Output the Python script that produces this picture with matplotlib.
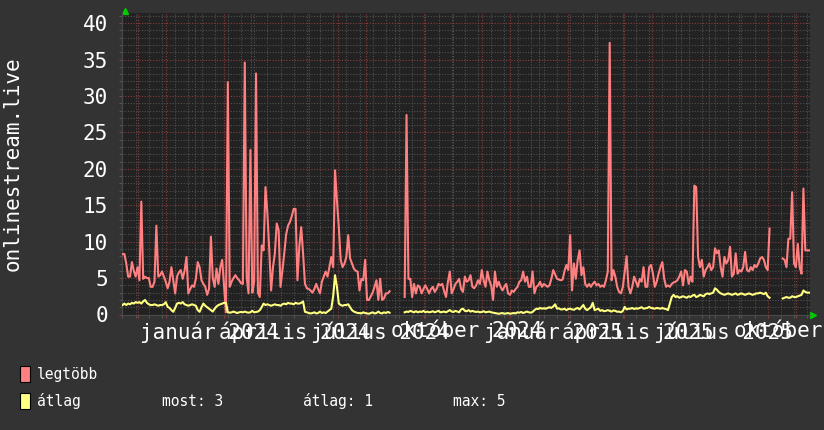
import numpy as np
import matplotlib.pyplot as plt
from matplotlib.patches import Rectangle

nan = np.nan

# one sample every 2 days, first sample on 2023-10-16
start = np.datetime64('2023-10-16')
step_days = 2

legtobb = [
    8.3, 8.3, 7.0, 5.2, 5.2, 7.2, 6.0, 5.2, 6.5, 4.7,
    15.5, 4.9, 5.2, 5.0, 5.0, 3.8, 3.8, 4.5, 12.2, 5.2,
    5.4, 5.9, 5.2, 4.5, 3.6, 4.5, 6.5, 4.7, 2.9, 5.2,
    5.8, 6.1, 4.9, 6.0, 7.9, 2.9, 3.5, 4.0, 3.8, 4.9,
    7.2, 6.5, 4.7, 4.2, 3.8, 2.7, 3.5, 10.7, 5.0, 3.8,
    6.3, 4.2, 6.5, 7.5, 3.8, 0.3, 31.9, 3.8, 4.5, 5.0,
    5.4, 5.0, 4.7, 4.3, 4.2, 34.6, 5.2, 2.9, 22.6, 3.0,
    4.5, 33.1, 3.0, 2.4, 9.5, 8.8, 17.5, 14.0, 9.0, 3.3,
    6.5, 8.4, 12.5, 11.6, 3.8, 6.0, 8.4, 11.0, 12.2, 12.7,
    13.5, 14.5, 14.5, 4.7, 9.3, 12.0, 8.4, 4.2, 3.6, 3.5,
    3.3, 3.0, 3.5, 4.2, 3.5, 2.9, 4.5, 5.2, 5.9, 5.2,
    6.5, 7.9, 6.5, 19.8, 15.7, 12.0, 7.5, 6.5, 7.0, 7.9,
    10.9, 7.7, 7.0, 6.3, 6.0, 5.9, 3.3, 4.9, 4.7, 7.5,
    2.0, 2.0, 2.5, 3.0, 3.8, 4.7, 2.0, 4.9, 2.0, 2.2,
    2.9, 2.9, 3.2, nan, nan, nan, nan, nan, nan, nan,
    2.4, 27.4, 4.9, 4.9, 2.4, 4.2, 2.9, 4.0, 3.8, 2.9,
    3.5, 4.0, 3.5, 2.9, 3.5, 3.8, 3.1, 3.5, 4.2, 4.0,
    4.2, 3.2, 2.4, 4.5, 5.9, 2.9, 3.5, 4.2, 4.5, 4.9,
    3.5, 3.1, 5.2, 4.5, 4.7, 5.4, 3.8, 3.6, 4.0, 4.7,
    4.2, 6.1, 4.7, 3.8, 5.9, 4.7, 4.0, 2.0, 5.9, 3.8,
    4.5, 3.8, 3.3, 3.8, 4.2, 2.9, 2.7, 3.3, 3.1, 3.5,
    3.8, 4.5, 4.7, 5.9, 4.5, 5.2, 3.8, 3.8, 5.9, 2.9,
    3.8, 4.0, 4.5, 3.8, 4.2, 4.0, 3.8, 4.0, 4.9, 6.1,
    5.5, 4.9, 4.8, 4.7, 4.8, 6.0, 6.8, 6.1, 10.9, 3.3,
    7.0, 4.9, 7.5, 8.8, 5.4, 6.5, 4.2, 3.8, 4.2, 3.8,
    4.2, 4.5, 4.0, 4.2, 3.8, 4.0, 3.8, 4.7, 5.9, 37.3,
    4.7, 6.1, 5.2, 3.8, 3.1, 2.9, 3.8, 5.9, 8.0, 3.8,
    2.9, 3.8, 5.2, 4.5, 3.8, 4.9, 4.5, 6.5, 3.8, 3.8,
    6.5, 6.8, 5.6, 3.8, 4.5, 5.6, 6.5, 7.2, 4.9, 3.8,
    4.0, 3.8, 4.2, 4.4, 4.5, 4.7, 5.2, 5.9, 4.0, 6.1,
    5.9, 4.2, 5.2, 4.5, 17.7, 17.5, 7.9, 6.5, 7.5, 5.2,
    6.1, 6.5, 7.0, 6.1, 6.5, 9.1, 8.4, 8.8, 6.5, 5.2,
    7.9, 7.0, 7.5, 9.3, 5.2, 5.6, 8.4, 5.6, 6.1, 5.9,
    6.5, 8.6, 6.1, 5.9, 6.5, 6.1, 6.8, 6.5, 7.0, 7.7,
    7.9, 7.5, 6.5, 6.1, 11.8, nan, nan, nan, nan, nan,
    nan, 7.7, 7.5, 6.5, 10.4, 10.4, 16.8, 7.0, 6.5, 9.7,
    6.5, 5.6, 17.3, 8.8, 8.8, 8.8,
]

atlag = [
    1.3, 1.5, 1.3, 1.5, 1.4, 1.6, 1.5, 1.7, 1.6, 1.7,
    1.5, 1.8, 2.0, 1.6, 1.4, 1.3, 1.3, 1.4, 1.3, 1.2,
    1.3, 1.3, 1.4, 1.7, 1.05, 0.9, 0.6, 0.37, 0.9, 1.5,
    1.6, 1.5, 1.7, 1.4, 1.3, 1.2, 1.3, 1.4, 1.3, 1.2,
    0.6, 0.37, 1.0, 1.5, 1.2, 1.0, 0.8, 0.6, 0.4, 0.8,
    1.1, 1.3, 1.4, 1.5, 1.6, 1.6, 0.3, 0.25, 0.3, 0.4,
    0.3, 0.2, 0.3, 0.35, 0.3, 0.4, 0.3, 0.25, 0.3, 0.5,
    0.3, 0.35, 0.4, 0.6, 1.0, 1.5, 1.3, 1.4, 1.3, 1.2,
    1.3, 1.4, 1.3, 1.3, 1.2, 1.4, 1.5, 1.4, 1.6, 1.5,
    1.5, 1.4, 1.6, 1.5, 1.5, 1.6, 1.8, 0.37, 0.3, 0.2,
    0.15, 0.2, 0.3, 0.15, 0.2, 0.4, 0.2, 0.3, 0.2, 0.4,
    0.6, 0.8, 2.5, 5.4, 3.8, 1.5, 1.3, 1.2, 1.3, 1.3,
    1.4, 1.0, 0.6, 0.4, 0.3, 0.2, 0.2, 0.15, 0.3, 0.2,
    0.15, 0.1, 0.2, 0.3, 0.15, 0.2, 0.4, 0.2, 0.15, 0.3,
    0.2, 0.35, 0.25, nan, nan, nan, nan, nan, nan, nan,
    0.3, 0.4, 0.35, 0.5, 0.4, 0.3, 0.45, 0.3, 0.4, 0.35,
    0.5, 0.3, 0.4, 0.3, 0.35, 0.45, 0.3, 0.4, 0.5, 0.3,
    0.35, 0.4, 0.3, 0.45, 0.6, 0.4, 0.35, 0.5, 0.4, 0.3,
    0.7, 0.8, 0.5, 0.45, 0.6, 0.4, 0.5, 0.4, 0.35, 0.4,
    0.3, 0.35, 0.45, 0.3, 0.35, 0.4, 0.3, 0.25, 0.2, 0.15,
    0.1, 0.15, 0.2, 0.1, 0.15, 0.2, 0.1, 0.15, 0.2, 0.15,
    0.3, 0.25, 0.35, 0.2, 0.3, 0.4, 0.3, 0.25, 0.35, 0.6,
    0.8, 0.75, 0.9, 0.8, 0.85, 0.8, 0.9, 1.0, 0.9, 1.1,
    1.4, 0.8, 0.85, 0.7, 0.7, 0.8, 0.6, 0.75, 0.8, 0.7,
    0.65, 0.8, 0.9, 0.7, 1.0, 1.3, 0.8, 0.6, 0.8, 1.0,
    1.6, 0.6, 0.7, 0.8, 0.5, 0.6, 0.45, 0.5, 0.6, 0.5,
    0.4, 0.55, 0.5, 0.37, 0.4, 0.3, 0.5, 1.05, 0.7, 0.8,
    0.8, 0.9, 0.75, 0.85, 0.8, 0.9, 1.0, 0.8, 0.85, 0.9,
    1.05, 0.9, 0.85, 0.8, 0.9, 0.85, 0.8, 0.9, 0.8, 0.75,
    0.6, 1.5, 2.4, 2.7, 2.4, 2.5, 2.3, 2.4, 2.5, 2.4,
    2.3, 2.5, 2.4, 2.6, 2.7, 2.4, 2.5, 2.7, 2.6, 2.5,
    2.8, 2.9, 2.8, 2.9, 3.0, 3.6, 3.4, 3.1, 2.9, 2.8,
    2.7, 2.8, 2.9, 2.8, 2.7, 2.8, 2.9, 2.7, 2.8, 2.9,
    2.8, 2.7, 2.8, 2.9, 2.8, 2.7, 2.8, 2.9, 2.9, 3.0,
    2.9, 2.8, 3.0, 2.5, 2.3, nan, nan, nan, nan, nan,
    nan, 2.2, 2.3, 2.4, 2.3, 2.3, 2.5, 2.4, 2.4, 2.5,
    2.6, 2.7, 3.3, 3.1, 3.0, 3.0,
]

x_labels = ['január 2024', 'április 2024', 'július 2024', 'október 2024',
            'január 2025', 'április 2025', 'július 2025', 'október 2025']
label_dates = ['2024-01-16', '2024-04-16', '2024-07-16', '2024-10-16',
               '2025-01-16', '2025-04-16', '2025-07-16', '2025-10-16']
y_ticks = [0, 5, 10, 15, 20, 25, 30, 35, 40]

assert len(legtobb) == len(atlag)

days = np.arange(len(legtobb)) * step_days
month_starts = np.arange('2023-11', '2025-11', dtype='datetime64[M]').astype('datetime64[D]')
month_days = (month_starts - start).astype(int)
week_days = np.arange(0, 732, 14)
label_days = (np.array(label_dates, dtype='datetime64[D]') - start).astype(int)

plt.rcParams['font.family'] = ['DejaVu Sans Mono']

W, H = 824, 430
fig = plt.figure(figsize=(W / 100, H / 100), dpi=100, facecolor='#333333')
ax = fig.add_axes([122.5 / W, 1 - 314.5 / H, 687.5 / W, 301.5 / H])
ax.set_facecolor('#222222')

ax.plot(days, legtobb, color='#ff8080', lw=1.5, zorder=3)
ax.plot(days, atlag, color='#ffff80', lw=1.5, zorder=4)

ax.set_xlim(0, 731)
ax.set_ylim(0, 41.4)

ax.set_xticks(month_days)
ax.set_xticks(week_days, minor=True)
ax.set_yticks(y_ticks)
ax.set_yticks(np.arange(0, 42), minor=True)
ax.set_yticklabels([str(v) for v in y_ticks])
ax.tick_params(axis='x', which='both', labelbottom=False)
ax.tick_params(which='major', length=2.5, width=0.8, color='#8c3c3c',
               labelcolor='white', labelsize=15, pad=8)
ax.tick_params(which='minor', length=2, width=0.8, color='#555555')
ax.grid(which='major', color='#8c3c3c', ls=(0, (1, 1.5)), lw=0.8)
ax.grid(which='minor', color='#505050', ls=(0, (1, 1.5)), lw=0.8)
ax.set_axisbelow(True)

for name, sp in ax.spines.items():
    if name in ('top', 'right'):
        sp.set_visible(False)
    else:
        sp.set_color('#4a4a4a')
        sp.set_linewidth(0.8)

# quarter labels, rrdtool style (they overlap)
for d, txt in zip(label_days, x_labels):
    ax.annotate(txt, xy=(d, 0), xycoords=('data', 'axes fraction'),
                xytext=(0, -5), textcoords='offset points',
                ha='center', va='top', color='white', fontsize=15,
                annotation_clip=False)

ax.set_ylabel('onlinestream.live', color='white', fontsize=15, va='center')
ax.yaxis.set_label_coords((13 - 122.5) / 687.5, 0.5)

# green axis arrows
ax.plot([0.0036], [1.0066], marker='^', ms=5, color='#00cc00',
        transform=ax.transAxes, clip_on=False)
ax.plot([1.0044], [-0.003], marker='>', ms=5, color='#00cc00',
        transform=ax.transAxes, clip_on=False)

# legend
avg = np.array(atlag, dtype=float)
valid = avg[~np.isnan(avg)]
rows = [('legtöbb', '#ff8080', 374), ('átlag', '#ffff80', 401)]
for name, col, yc in rows:
    fig.add_artist(Rectangle((20 / W, 1 - (yc + 8) / H), 10 / W, 16 / H,
                             transform=fig.transFigure, facecolor=col,
                             edgecolor='black', lw=0.8))
    fig.text(37 / W, 1 - yc / H, name, color='white', fontsize=10.5,
             va='center', ha='left')

fig.text(162 / W, 1 - 401 / H, 'most: %.0f' % valid[-1], color='white',
         fontsize=10.5, va='center')
fig.text(303 / W, 1 - 401 / H, 'átlag: %.0f' % valid.mean(), color='white',
         fontsize=10.5, va='center')
fig.text(453 / W, 1 - 401 / H, 'max: %.0f' % valid.max(), color='white',
         fontsize=10.5, va='center')

fig.savefig('out.png', dpi=100, facecolor=fig.get_facecolor())
